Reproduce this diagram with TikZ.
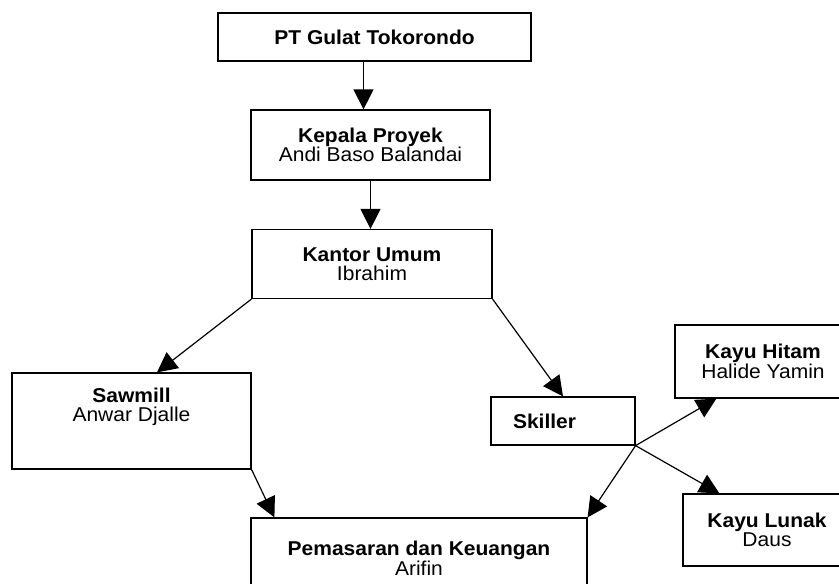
\documentclass[tikz,border=0pt]{standalone}
\usepackage{fontspec}
\setmainfont[FakeStretch=1.05]{Liberation Sans}
\usetikzlibrary{arrows.meta}

\begin{document}
\begin{tikzpicture}[x=1pt, y=-1pt, font=\fontsize{20}{19.5}\selectfont,
  orgbox/.style={draw, line width=1.2pt, align=center, inner sep=0pt},
  arr/.style={line width=1.2pt, -{Triangle[length=20pt, width=20pt]}}]
  \useasboundingbox (0,0) rectangle (839,584);
  \clip (0,0) rectangle (839,584);
  % boxes
  \node[orgbox, minimum width=313pt, minimum height=48pt] (ptg) at (374.5,37) {\textbf{PT Gulat Tokorondo}};
  \node[orgbox, minimum width=239pt, minimum height=70pt] (kepala) at (370.5,145) {\textbf{Kepala Proyek}\\Andi Baso Balandai};
  \node[orgbox, minimum width=240pt, minimum height=69pt] (kantor) at (372,264) {\textbf{Kantor Umum}\\Ibrahim};
  \node[orgbox, minimum width=239pt, minimum height=96pt] (sawmill) at (131.5,421) {};
  \node[anchor=north, align=center, inner sep=0pt] (sawmilltxt) at ([yshift=-15pt]sawmill.north) {\textbf{Sawmill}\\Anwar Djalle};
  \node[orgbox, minimum width=144pt, minimum height=48pt, text width=100pt, align=left] (skiller) at (563,421) {\textbf{Skiller}};
  \node[orgbox, minimum width=176pt, minimum height=73pt] (hitam) at (763,361.5) {\textbf{Kayu Hitam}\\Halide Yamin};
  \node[orgbox, minimum width=168pt, minimum height=72pt] (lunak) at (767,530) {\textbf{Kayu Lunak}\\Daus};
  \node[orgbox, minimum width=336pt, minimum height=80pt] (pemasaran) at (419,558) {\textbf{Pemasaran dan Keuangan}\\Arifin};
  % arrows
  \draw[arr] ([xshift=-11pt]ptg.south) -- ([xshift=-11pt]ptg.south |- kepala.north);
  \draw[arr] (kepala.south) -- (kepala.south |- kantor.north);
  \draw[arr] (kantor.south west) -- ([xshift=25.5pt]sawmill.north);
  \draw[arr] (kantor.south east) -- (skiller.north);
  \draw[arr] (sawmill.south east) -- ([xshift=24pt]pemasaran.north west);
  \draw[arr] (skiller.south east) -- ([xshift=42pt]hitam.south west);
  \draw[arr] (skiller.south east) -- ([xshift=37pt]lunak.north west);
  \draw[arr] (skiller.south east) -- (pemasaran.north east);
\end{tikzpicture}
\end{document}
